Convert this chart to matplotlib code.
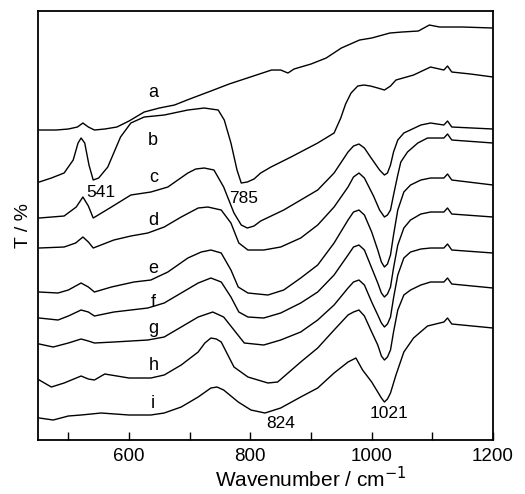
import matplotlib
matplotlib.use('Agg')
import matplotlib.pyplot as plt
from matplotlib import ticker

plt.rcParams['font.family'] = ['Liberation Sans', 'DejaVu Sans']

# FTIR spectra, wavenumber (cm-1) vs transmittance (offset, arbitrary units)
a_wn = [452,480,500,515,524,533,543,560,580,600,625,650,675,700,735,765,800,835,850,862,872,900,925,950,980,1000,1030,1050,1077,1095,1112,1150,1200]
a_T = [310,310,311,313,317,313,310,311,313,319,328,332,335,341,349,356,363,370,370,367,371,376,382,392,400,402,407,408,409,415,413,413,412]

b_wn = [452,472,493,508,516,521,527,534,541,550,565,586,603,625,658,697,724,747,757,768,778,785,795,806,817,834,867,911,938,949,957,966,977,987,998,1010,1021,1031,1040,1069,1097,1119,1125,1132,1163,1200]
b_T = [258,262,267,280,297,302,297,275,260,262,273,303,317,323,325,330,332,330,320,297,270,257,258,261,267,273,283,297,307,322,336,347,354,355,354,352,350,354,360,365,373,370,374,368,366,363]

c_wn = [452,493,513,524,533,541,571,603,636,664,697,710,724,740,756,773,785,795,806,817,855,883,911,938,961,970,979,988,998,1013,1021,1026,1031,1036,1043,1053,1081,1097,1119,1125,1132,1200]
c_T = [222,224,233,243,234,222,233,245,248,253,267,271,272,270,253,227,215,212,214,219,230,240,250,267,288,294,296,292,283,270,265,267,275,288,300,307,315,317,315,319,313,311]

d_wn = [452,493,512,524,533,541,575,603,631,658,686,714,730,752,768,781,796,822,850,883,911,938,961,970,979,988,1003,1013,1021,1026,1031,1036,1043,1048,1059,1076,1092,1119,1125,1132,1200]
d_T = [192,193,197,203,198,192,200,204,207,213,223,232,233,230,217,197,190,190,193,202,215,233,253,263,267,262,244,230,223,225,230,245,265,278,288,297,302,302,306,300,297]

e_wn = [452,483,500,521,533,543,571,608,636,664,697,719,735,752,768,780,796,829,855,883,911,938,961,970,979,988,1000,1010,1016,1021,1026,1031,1036,1043,1053,1064,1081,1097,1119,1125,1132,1200]
e_T = [148,147,150,157,153,148,153,158,160,168,182,188,190,187,170,153,147,145,150,162,175,197,220,228,230,225,208,190,178,173,176,185,205,230,248,255,260,262,262,266,260,255]

f_wn = [452,483,500,521,533,543,575,631,658,686,714,735,752,768,781,796,822,850,883,911,938,961,970,979,988,1000,1010,1016,1021,1026,1031,1036,1043,1053,1064,1081,1097,1119,1125,1132,1200]
f_T = [122,120,124,130,128,124,128,132,137,147,157,162,158,143,128,123,122,127,137,148,165,185,193,195,190,172,157,147,143,146,153,172,195,212,220,226,228,228,232,226,223]

g_wn = [452,475,500,521,533,543,575,631,658,686,714,738,756,773,790,822,850,883,911,938,961,970,979,988,1000,1010,1016,1021,1026,1031,1036,1043,1053,1064,1081,1097,1119,1125,1132,1200]
g_T = [96,93,97,101,99,97,98,100,103,113,123,128,123,110,97,95,100,108,120,135,152,158,160,155,138,125,117,113,116,123,142,165,182,188,191,192,192,196,190,187]

h_wn = [452,472,493,521,533,543,560,600,636,658,686,714,725,735,744,752,773,796,829,845,883,911,938,961,970,979,988,1000,1010,1016,1021,1026,1031,1036,1043,1053,1064,1081,1097,1119,1125,1132,1200]
h_T = [60,53,57,64,61,60,66,62,62,65,75,88,97,102,101,98,73,63,57,58,78,92,110,125,128,130,124,108,95,84,80,83,90,108,130,145,150,155,158,158,162,156,152]

i_wn = [452,475,500,521,554,600,636,658,686,714,735,745,756,780,801,824,850,883,911,938,961,974,985,1000,1010,1016,1021,1026,1031,1040,1053,1069,1092,1119,1125,1132,1200]
i_T = [22,20,24,25,27,25,25,27,33,43,52,53,50,38,30,27,32,43,52,67,78,82,70,58,48,42,38,41,47,65,88,102,114,118,122,116,112]

curves = [(a_wn, a_T), (b_wn, b_T), (c_wn, c_T), (d_wn, d_T), (e_wn, e_T),
          (f_wn, f_T), (g_wn, g_T), (h_wn, h_T), (i_wn, i_T)]
names = ['a', 'b', 'c', 'd', 'e', 'f', 'g', 'h', 'i']
name_T = [348, 300, 263, 220, 172, 138, 112, 75, 37]

peaks = ['541', '785', '824', '1021']
peak_pos = [(554, 248), (789, 242), (850, 17), (1028, 27)]

fig = plt.figure(figsize=(5.25, 4.94), dpi=100)
ax = fig.add_axes([0.0724, 0.1093, 0.8667, 0.8684])

for x, y in curves:
    ax.plot(x, y, color='black', lw=1.0)

for n, t in zip(names, name_T):
    ax.text(640, t, n, fontsize=13, ha='center', va='center')
for p, (px, py) in zip(peaks, peak_pos):
    ax.text(px, py, p, fontsize=12.5, ha='center', va='center')

ax.set_xlim(450, 1200)
ax.set_ylim(0, 429)
ax.xaxis.set_major_locator(ticker.MultipleLocator(200))
ax.xaxis.set_minor_locator(ticker.MultipleLocator(100))
ax.tick_params(axis='x', which='both', direction='in', length=6, width=1.0,
               labelsize=13.5, pad=6)
ax.set_yticks([])
for s in ax.spines.values():
    s.set_linewidth(1.3)

ax.set_xlabel(r'Wavenumber / cm$^{-1}$', fontsize=15)
ax.xaxis.set_label_coords(0.6, -0.06)
ax.set_ylabel('T / %', fontsize=14, labelpad=4)

fig.savefig('out.png', dpi=100)
